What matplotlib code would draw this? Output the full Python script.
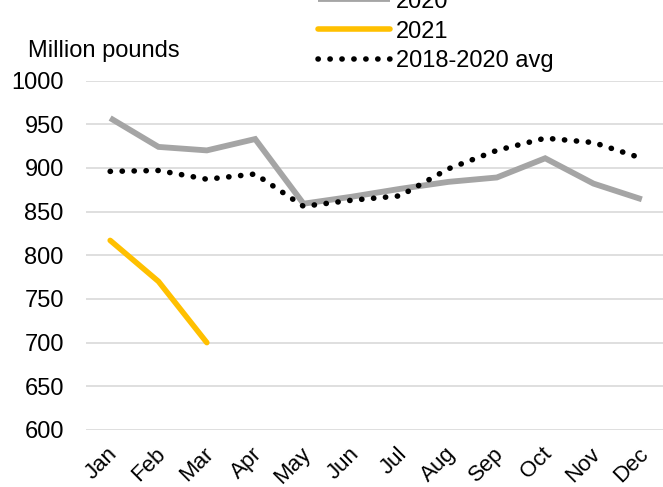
import matplotlib
matplotlib.use("Agg")
import matplotlib.pyplot as plt
import matplotlib.transforms as mtransforms

plt.rcParams['font.family'] = ['Liberation Sans', 'DejaVu Sans']

months = ["Jan", "Feb", "Mar", "Apr", "May", "Jun", "Jul", "Aug", "Sep", "Oct", "Nov", "Dec"]
y2020 = [957, 924, 920, 933, 859, 867, 876, 884, 889, 911, 882, 864]
y2021 = [817, 770, 700]
avg_18_20 = [896, 897, 887, 893, 856, 863, 868, 899, 920, 934, 929, 911]
yticks = [600, 650, 700, 750, 800, 850, 900, 950, 1000]

fs = 17
fig = plt.figure(figsize=(6.63, 4.87), dpi=100)
ax = fig.add_axes([86/663, 1 - 430/487, (666 - 86)/663, (430 - 80.5)/487])

x = list(range(len(months)))
l20, = ax.plot(x, y2020, color="#A5A5A5", lw=4.2, solid_capstyle="butt", solid_joinstyle="miter", label="2020")
l21, = ax.plot(x[:len(y2021)], y2021, color="#FFC000", lw=4.0, solid_capstyle="round", label="2021")
lav, = ax.plot(x, avg_18_20, color="black", lw=4.0, linestyle=(0, (0.05, 2.1)),
               dash_capstyle="round", label="2018-2020 avg")

ax.set_xlim(-0.5, 11.5)
ax.set_ylim(600, 1000)
ax.set_yticks(yticks)
ax.set_yticklabels([str(v) for v in yticks], fontsize=fs)
ax.yaxis.grid(True, color="#D9D9D9", lw=1.2)
ax.set_axisbelow(True)
for s in ax.spines.values():
    s.set_visible(False)
ax.tick_params(axis="y", length=0, pad=16)
ax.tick_params(axis="x", length=0, pad=15)

ax.set_xticks(x)
ax.set_xticklabels(months, fontsize=16, rotation=45, ha="right", va="center",
                   rotation_mode="anchor")
offset = mtransforms.ScaledTranslation(4/100, 0, fig.dpi_scale_trans)
for lab in ax.get_xticklabels():
    lab.set_transform(lab.get_transform() + offset)

fig.text(28/663, 1 - 57/487, "Million pounds", fontsize=fs, ha="left", va="baseline")

leg = fig.legend(handles=[l20, l21, lav], loc="center left",
                 bbox_to_anchor=(318/663, 1 - 31.5/487), frameon=False,
                 fontsize=fs, handlelength=3.05, handletextpad=0.25,
                 labelspacing=0.33, borderpad=0, borderaxespad=0)

fig.savefig("out.png", dpi=100)
